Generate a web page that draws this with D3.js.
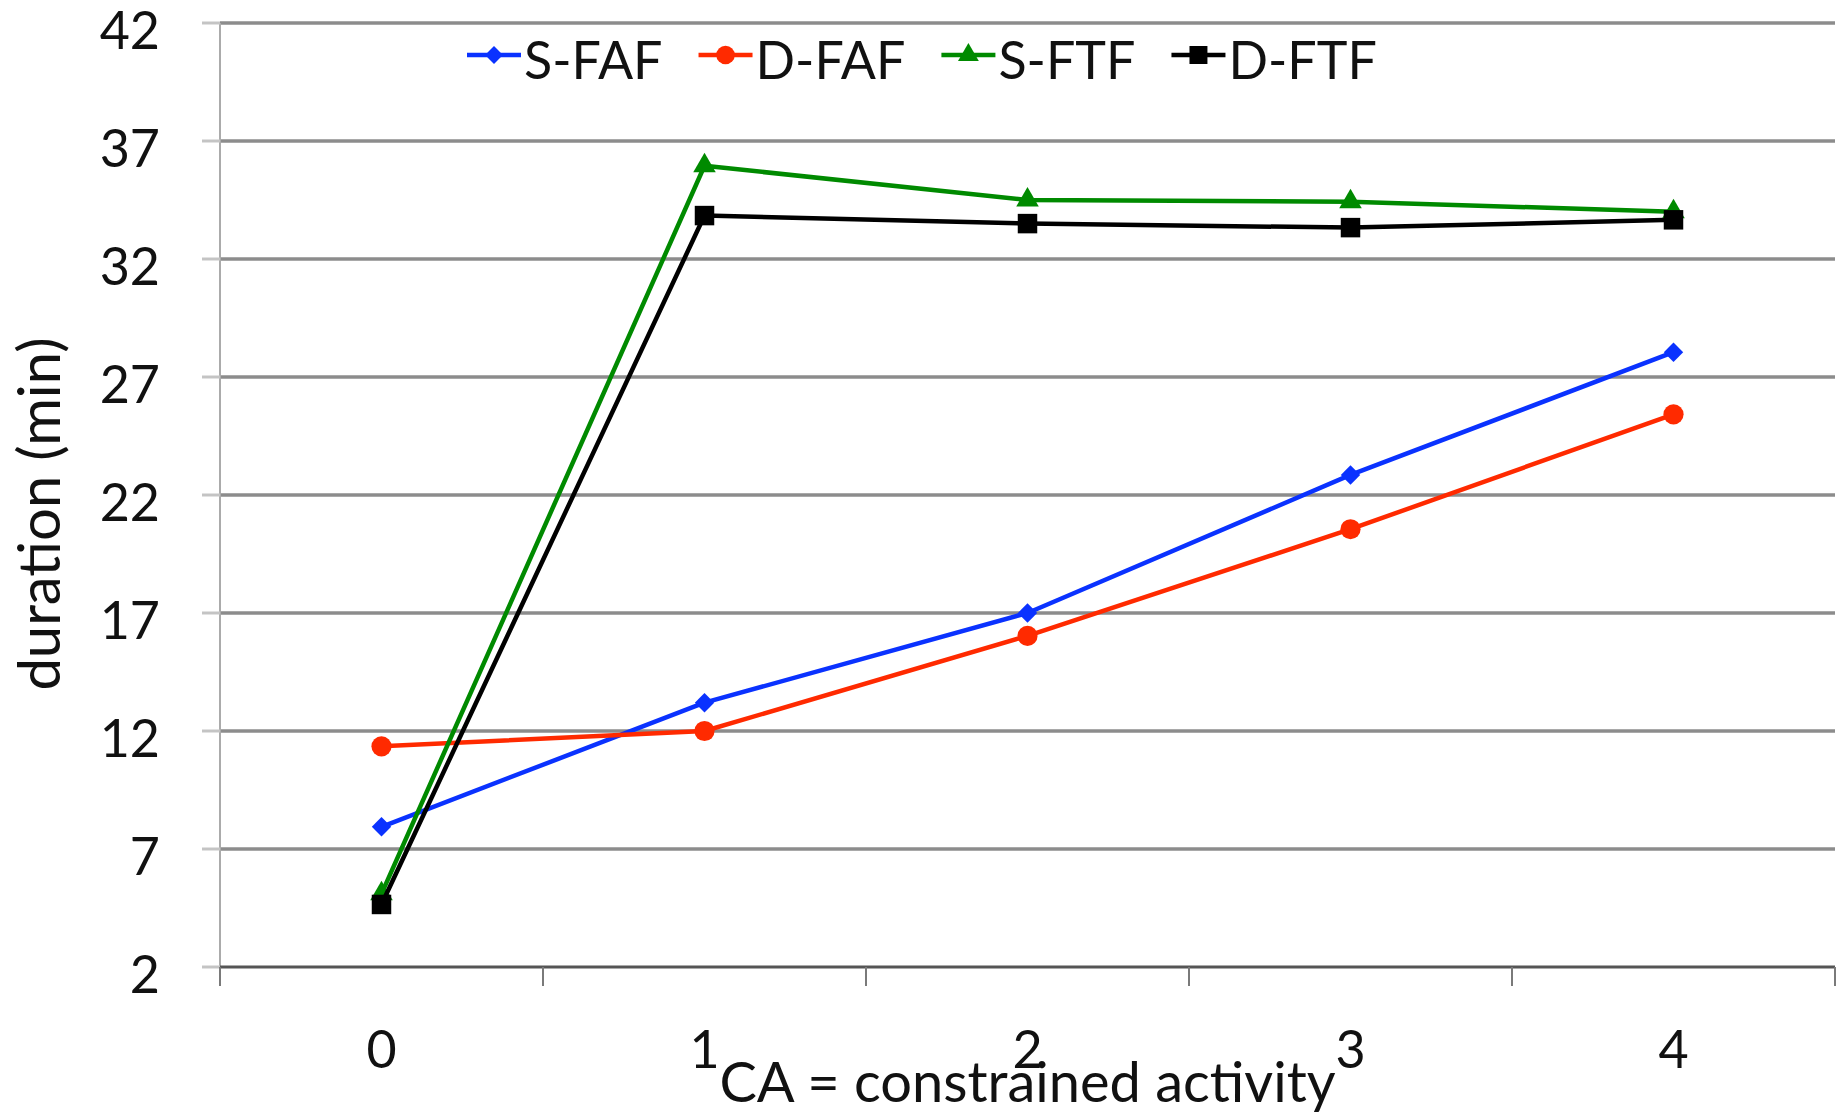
<!DOCTYPE html>
<html>
<head>
<meta charset="utf-8">
<script src="https://cdn.jsdelivr.net/npm/d3@7"></script>
<style>
  body { margin: 0; background: #fff; }
  text { font-family: Lato, "Open Sans", sans-serif; fill: #111; }
</style>
</head>
<body>
<div id="vis"></div>
<script>
// categories on the x axis
const caValues = ["0", "1", "2", "3", "4"];

// series values (minutes)
const sFAF = [7.94, 13.2, 17.0, 22.85, 28.05];
const dFAF = [11.35, 12.0, 16.03, 20.55, 25.42];
const sFTF = [5.1, 35.95, 34.5, 34.43, 34.0];
const dFTF = [4.65, 33.84, 33.5, 33.33, 33.66];

// y tick labels
const yTicks = [2, 7, 12, 17, 22, 27, 32, 37, 42];

const seriesNames = ["S-FAF", "D-FAF", "S-FTF", "D-FTF"];
const seriesValues = [sFAF, dFAF, sFTF, dFTF];
const seriesColors = ["#0a32ff", "#ff2a00", "#008a00", "#000000"];
const seriesSymbols = [d3.symbolDiamond2, d3.symbolCircle, d3.symbolTriangle, d3.symbolSquare];
const symbolSizes = [240, 320, 220, 380];

const W = 1843, H = 1113;
const plot = { left: 220, right: 1835, top: 23, bottom: 967 };
const fontSize = 52;
const titleSize = 56;

const svg = d3.select("#vis")
  .append("svg")
  .attr("width", W)
  .attr("height", H);

svg.append("rect").attr("width", W).attr("height", H).attr("fill", "#fff");

const xScale = d3.scaleBand()
  .domain(caValues)
  .range([plot.left, plot.right])
  .padding(0);

const yScale = d3.scaleLinear()
  .domain([2, 42])
  .range([plot.bottom, plot.top]);

const xc = d => xScale(d) + xScale.bandwidth() / 2;

// horizontal grid lines
svg.append("g")
  .selectAll("line")
  .data(yTicks.filter(t => t > 2))
  .join("line")
  .attr("x1", plot.left)
  .attr("x2", plot.right)
  .attr("y1", d => yScale(d))
  .attr("y2", d => yScale(d))
  .attr("stroke", "#8c8c8c")
  .attr("stroke-width", 3.5);

// y axis: light line, short ticks, labels
const yAxis = svg.append("g");
yAxis.append("line")
  .attr("x1", plot.left).attr("x2", plot.left)
  .attr("y1", plot.top).attr("y2", plot.bottom)
  .attr("stroke", "#ababab")
  .attr("stroke-width", 2);
yAxis.selectAll(".ytick")
  .data(yTicks)
  .join("line")
  .attr("class", "ytick")
  .attr("x1", plot.left - 18).attr("x2", plot.left)
  .attr("y1", d => yScale(d)).attr("y2", d => yScale(d))
  .attr("stroke", "#c4c4c4")
  .attr("stroke-width", 3);
yAxis.selectAll("text")
  .data(yTicks)
  .join("text")
  .attr("x", 160)
  .attr("y", d => yScale(d) + 26)
  .attr("text-anchor", "end")
  .style("font-size", fontSize + "px")
  .text(d => d);

// x axis
const xAxis = svg.append("g");
xAxis.append("line")
  .attr("x1", plot.left).attr("x2", plot.right)
  .attr("y1", plot.bottom).attr("y2", plot.bottom)
  .attr("stroke", "#555")
  .attr("stroke-width", 3);
const boundaries = caValues.map(d => xScale(d)).concat([plot.right]);
xAxis.selectAll(".xtick")
  .data(boundaries)
  .join("line")
  .attr("class", "xtick")
  .attr("x1", d => d).attr("x2", d => d)
  .attr("y1", plot.bottom).attr("y2", plot.bottom + 19)
  .attr("stroke", "#7a7a7a")
  .attr("stroke-width", 2);
xAxis.selectAll("text")
  .data(caValues)
  .join("text")
  .attr("x", d => xc(d))
  .attr("y", 1068)
  .attr("text-anchor", "middle")
  .style("font-size", fontSize + "px")
  .text(d => d);

// axis titles
svg.append("text")
  .attr("x", (plot.left + plot.right) / 2)
  .attr("y", 1102)
  .attr("text-anchor", "middle")
  .style("font-size", titleSize + "px")
  .text("CA = constrained activity");

svg.append("text")
  .attr("transform", "translate(60,514) rotate(-90)")
  .attr("text-anchor", "middle")
  .style("font-size", (titleSize + 2) + "px")
  .text("duration (min)");

// lines + markers
const line = d3.line()
  .x((d, i) => xc(caValues[i]))
  .y(d => yScale(d));

seriesValues.forEach((vals, s) => {
  const g = svg.append("g");
  g.append("path")
    .datum(vals)
    .attr("fill", "none")
    .attr("stroke", seriesColors[s])
    .attr("stroke-width", 4.5)
    .attr("stroke-linejoin", "round")
    .attr("d", line);
  g.selectAll("path.pt")
    .data(vals)
    .join("path")
    .attr("class", "pt")
    .attr("transform", (d, i) => `translate(${xc(caValues[i])},${yScale(d)})`)
    .attr("d", d3.symbol().type(seriesSymbols[s]).size(symbolSizes[s]))
    .attr("fill", seriesColors[s]);
});

// legend, laid out left to right from measured text widths
let lx = 467;
const legendY = 55;
seriesNames.forEach((name, s) => {
  const g = svg.append("g").attr("transform", `translate(${lx},0)`);
  g.append("line")
    .attr("x1", 0).attr("x2", 54)
    .attr("y1", legendY).attr("y2", legendY)
    .attr("stroke", seriesColors[s])
    .attr("stroke-width", 4.5);
  g.append("path")
    .attr("transform", `translate(27,${legendY})`)
    .attr("d", d3.symbol().type(seriesSymbols[s]).size(symbolSizes[s] * 0.85))
    .attr("fill", seriesColors[s]);
  const t = g.append("text")
    .attr("x", 57)
    .attr("y", 79)
    .style("font-size", fontSize + "px")
    .text(name);
  lx += 57 + t.node().getComputedTextLength() + 36;
});
</script>
</body>
</html>
